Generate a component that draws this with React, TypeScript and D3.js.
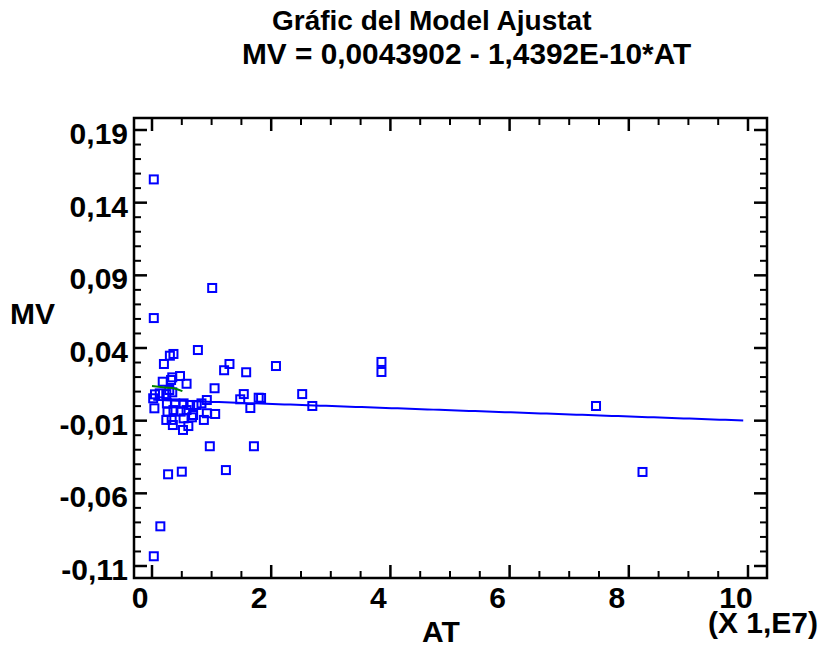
import React from 'react';
import * as d3 from 'd3';

// AT in units of 1E7, MV
const atValues = [
  0.03, 1.01, 0.03, 0.77, 0.36, 0.3, 0.2, 1.3, 1.21, 1.58, 2.08, 3.85, 3.85, 1.05, 2.52, 2.69,
  1.54, 1.48, 1.65, 1.79, 1.83, 7.45, 8.23, 0.27, 0.5, 1.24, 0.97, 1.71, 0.14, 0.03,
  0.47, 0.34, 0.32, 0.18, 0.58, 0.29, 0.13, 0.05, 0.02, 0.24, 0.34, 0.04,
  0.25, 0.39, 0.53, 0.64, 0.75, 0.83, 0.92, 0.26, 0.36, 0.48, 0.58, 0.69, 0.92, 1.06,
  0.24, 0.33, 0.53, 0.67, 0.87, 0.35, 0.61, 0.52,
];
const mvValues = [
  0.156, 0.0813, 0.0606, 0.0386, 0.0359, 0.0347, 0.029, 0.029, 0.0247, 0.0233, 0.0276, 0.0304, 0.0235, 0.0123, 0.0083, 0.0001,
  0.0083, 0.0047, -0.0013, 0.0058, 0.0056, 0.0001, -0.0453, -0.0469, -0.0451, -0.044, -0.0276, -0.0276, -0.0827, -0.1033,
  0.0207, 0.0198, 0.018, 0.0168, 0.0154, 0.0111, 0.0088, 0.0081, 0.0054, 0.0083, 0.0095, -0.0015,
  0.0019, 0.0019, 0.0019, 0.0008, 0.0008, 0.0019, 0.0042, -0.0038, -0.0027, -0.0038, -0.0027, -0.0061, -0.0049, -0.0054,
  -0.0095, -0.0095, -0.0084, -0.0077, -0.0095, -0.013, -0.0137, -0.0164,
];

const intercept = 0.0043902;
const slope = -1.4392e-10;
const fitRange = [0.02, 10];

const greenAt = [0, 0.22, 0.38, 0.51];
const greenMv = [0.0139, 0.0128, 0.0121, 0.0103];

const xMajor = [0, 2, 4, 6, 8, 10];
const yMajor = [-0.11, -0.06, -0.01, 0.04, 0.09, 0.14, 0.19];
const yTickLabels = ['-0,11', '-0,06', '-0,01', '0,04', '0,09', '0,14', '0,19'];

const W = 823;
const H = 648;
const frame = { left: 134, right: 767, top: 118, bottom: 578 };

const App: React.FC = () => {
  const x = d3.scaleLinear().domain([0, 10]).range([152, 748]);
  const y = d3.scaleLinear().domain([-0.11, 0.19]).range([566, 130]);

  const xMinor = d3.range(0, 10.01, 0.5).filter((v) => Math.abs(v % 2) > 1e-6);
  const yMinor = d3.range(-0.11, 0.1901, 0.01).filter((v) => !yMajor.some((m) => Math.abs(m - v) < 1e-6));

  const fitLine = d3
    .line<number>()
    .x((d) => x(d))
    .y((d) => y(intercept + slope * d * 1e7));
  const fitPts = d3.range(fitRange[0], fitRange[1] + 0.001, 0.1);

  const greenLine = d3
    .line<number>()
    .x((d) => x(greenAt[d]))
    .y((d) => y(greenMv[d]))
    .curve(d3.curveMonotoneX);

  const font = "'Liberation Sans', Arial, Helvetica, sans-serif";
  const sq = 8;

  return (
    <svg width={W} height={H} style={{ position: 'absolute', left: 0, top: 0 }} fontFamily={font} fontWeight="bold">
      <rect width={W} height={H} fill="#fff" />
      <text x={272} y={30} fontSize={28}>Gráfic del Model Ajustat</text>
      <text x={242} y={64} fontSize={29.8}>MV = 0,0043902 - 1,4392E-10*AT</text>

      {/* frame */}
      <rect
        x={frame.left}
        y={frame.top}
        width={frame.right - frame.left}
        height={frame.bottom - frame.top}
        fill="none"
        stroke="#000"
        strokeWidth={2.5}
      />
      {xMajor.map((v) => (
        <g key={'xM' + v}>
          <line x1={x(v)} x2={x(v)} y1={frame.bottom} y2={frame.bottom - 13} stroke="#000" strokeWidth={2.5} />
          <line x1={x(v)} x2={x(v)} y1={frame.top} y2={frame.top + 13} stroke="#000" strokeWidth={2.5} />
          <text x={x(v) - 12} y={608} fontSize={30} textAnchor="middle">{v}</text>
        </g>
      ))}
      {xMinor.map((v) => (
        <g key={'xm' + v}>
          <line x1={x(v)} x2={x(v)} y1={frame.bottom} y2={frame.bottom - 7} stroke="#000" strokeWidth={2} />
          <line x1={x(v)} x2={x(v)} y1={frame.top} y2={frame.top + 7} stroke="#000" strokeWidth={2} />
        </g>
      ))}
      {yMajor.map((v, i) => (
        <g key={'yM' + v}>
          <line x1={frame.left} x2={frame.left + 13} y1={y(v)} y2={y(v)} stroke="#000" strokeWidth={2.5} />
          <line x1={frame.right} x2={frame.right - 13} y1={y(v)} y2={y(v)} stroke="#000" strokeWidth={2.5} />
          <text x={128} y={y(v) + 14} fontSize={30} textAnchor="end">{yTickLabels[i]}</text>
        </g>
      ))}
      {yMinor.map((v) => (
        <g key={'ym' + v}>
          <line x1={frame.left} x2={frame.left + 7} y1={y(v)} y2={y(v)} stroke="#000" strokeWidth={2} />
          <line x1={frame.right} x2={frame.right - 7} y1={y(v)} y2={y(v)} stroke="#000" strokeWidth={2} />
        </g>
      ))}

      <text x={441} y={642} fontSize={30} textAnchor="middle">AT</text>
      <text x={818} y={633} fontSize={30} textAnchor="end">(X 1,E7)</text>
      <text x={10} y={324} fontSize={30}>MV</text>

      {atValues.map((a, i) => (
        <rect
          key={'p' + i}
          x={x(a) - sq / 2}
          y={y(mvValues[i]) - sq / 2}
          width={sq}
          height={sq}
          fill="none"
          stroke="#0000ff"
          strokeWidth={2}
        />
      ))}

      {/* fitted line and green segment drawn over the points */}
      <path d={fitLine(fitPts) || ''} fill="none" stroke="#0000ff" strokeWidth={2} />
      <path d={greenLine(d3.range(greenAt.length)) || ''} fill="none" stroke="#008000" strokeWidth={2} />
    </svg>
  );
};

export default App;
